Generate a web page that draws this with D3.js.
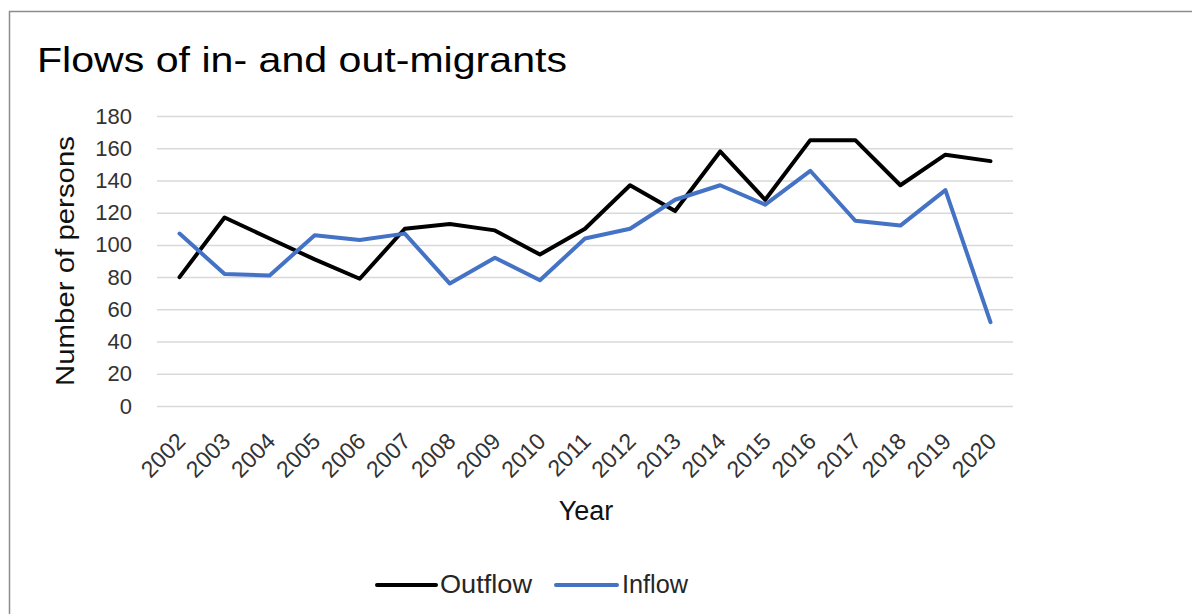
<!DOCTYPE html>
<html>
<head>
<meta charset="utf-8">
<script src="https://cdn.jsdelivr.net/npm/d3@7"></script>
<style>
  html, body { margin: 0; padding: 0; background: #fff; }
  svg { display: block; font-family: "Liberation Sans", Arial, sans-serif; }
</style>
</head>
<body>
<svg id="chart" width="1192" height="614"></svg>
<script>
// Migration flows by year
const years = ["2002","2003","2004","2005","2006","2007","2008","2009","2010","2011",
               "2012","2013","2014","2015","2016","2017","2018","2019","2020"];
const outflow = [80, 117, 104, 91, 79, 110, 113, 109, 94, 110, 137, 121, 158, 128, 165, 165, 137, 156, 152];
const inflow  = [107, 82, 81, 106, 103, 107, 76, 92, 78, 104, 110, 128, 137, 125, 146, 115, 112, 134, 52];
const yTicks = [0, 20, 40, 60, 80, 100, 120, 140, 160, 180];
const seriesNames = ["Outflow", "Inflow"];
const seriesColors = ["#000000", "#4472C4"];

const svg = d3.select("#chart");

// chart frame
svg.append("rect")
  .attr("x", 9.5).attr("y", 11.5)
  .attr("width", 1200).attr("height", 620)
  .attr("fill", "#fff").attr("stroke", "#8c8c8c").attr("stroke-width", 1.5);

const plot = { left: 157, right: 1013, top: 116, bottom: 406 };

const x = d3.scalePoint().domain(years).range([plot.left, plot.right]).padding(0.5);
const y = d3.scaleLinear().domain([0, 180]).range([plot.bottom, plot.top]);

// horizontal gridlines + value labels
const yAxis = svg.append("g")
  .attr("transform", `translate(${plot.left},0)`)
  .call(d3.axisLeft(y).tickValues(yTicks).tickSize(-(plot.right - plot.left)).tickPadding(25));
yAxis.select(".domain").remove();
yAxis.selectAll(".tick line").attr("stroke", "#d9d9d9").attr("stroke-width", 1.5);
yAxis.selectAll(".tick text")
  .attr("fill", "#333")
  .style("font-size", "22px")
  .attr("font-family", "Liberation Sans, Arial, sans-serif");

// year labels, slanted
const xAxis = svg.append("g")
  .attr("transform", `translate(0,${plot.bottom})`)
  .call(d3.axisBottom(x).tickSize(0).tickPadding(0));
xAxis.select(".domain").remove();
xAxis.selectAll(".tick text")
  .attr("fill", "#333")
  .style("font-size", "23px")
  .attr("font-family", "Liberation Sans, Arial, sans-serif")
  .attr("text-anchor", "end")
  .attr("dy", "0.35em")
  .attr("y", 0)
  .attr("transform", "translate(1,31) rotate(-45)");

// series lines
const line = d3.line().x((d, i) => x(years[i])).y(d => y(d));
[outflow, inflow].forEach((vals, k) => {
  svg.append("path")
    .datum(vals)
    .attr("d", line)
    .attr("fill", "none")
    .attr("stroke", seriesColors[k])
    .attr("stroke-width", 4)
    .attr("stroke-linejoin", "round")
    .attr("stroke-linecap", "round");
});

// title
svg.append("text")
  .attr("x", 37).attr("y", 72)
  .attr("font-size", 35)
  .attr("fill", "#000")
  .attr("textLength", 530).attr("lengthAdjust", "spacingAndGlyphs")
  .text("Flows of in- and out-migrants");

// axis titles
svg.append("text")
  .attr("transform", "translate(74,261) rotate(-90)")
  .attr("text-anchor", "middle")
  .attr("font-size", 25)
  .attr("fill", "#111")
  .attr("textLength", 250).attr("lengthAdjust", "spacingAndGlyphs")
  .text("Number of persons");

svg.append("text")
  .attr("x", 586).attr("y", 520)
  .attr("text-anchor", "middle")
  .attr("font-size", 27)
  .attr("fill", "#111")
  .text("Year");

// legend
const legendItems = [
  { lx1: 377, lx2: 436, tx: 440, tw: 92 },
  { lx1: 556, lx2: 617, tx: 622, tw: 66 }
];
legendItems.forEach((p, k) => {
  svg.append("line")
    .attr("x1", p.lx1).attr("x2", p.lx2)
    .attr("y1", 585).attr("y2", 585)
    .attr("stroke", seriesColors[k]).attr("stroke-width", 4)
    .attr("stroke-linecap", "round");
  svg.append("text")
    .attr("x", p.tx).attr("y", 593)
    .attr("font-size", 25)
    .attr("fill", "#262626")
    .attr("textLength", p.tw).attr("lengthAdjust", "spacingAndGlyphs")
    .text(seriesNames[k]);
});
</script>
</body>
</html>
